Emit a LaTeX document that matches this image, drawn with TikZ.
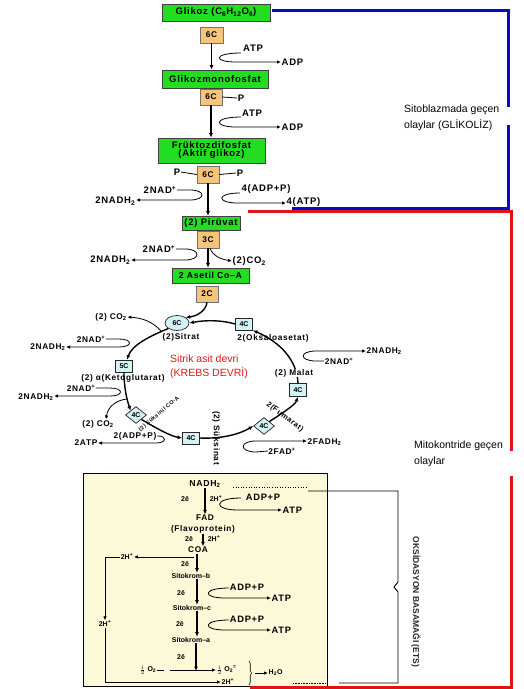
\documentclass[tikz,border=0pt]{standalone}
\usepackage{fontspec}
\setmainfont{Liberation Sans}
\newfontfamily\lbf[LetterSpace=8]{Liberation Sans}
\usetikzlibrary{arrows.meta,shapes.geometric,decorations.pathreplacing}
\definecolor{gfill}{HTML}{22DD22}
\definecolor{ofill}{HTML}{F5C67A}
\definecolor{cfill}{HTML}{D4F1F5}
\definecolor{efill}{HTML}{FCF9D9}
\definecolor{bline}{HTML}{0A0ACC}
\definecolor{rline}{HTML}{E01414}
\definecolor{kred}{HTML}{D81C1C}
\tikzset{
  L/.style={font=\lbf\bfseries\fontsize{9.5}{10}\selectfont, inner sep=0.5pt},
  K/.style={font=\lbf\bfseries\fontsize{8.3}{9}\selectfont, inner sep=0.5pt},
  E/.style={font=\bfseries\fontsize{7}{8}\selectfont, inner sep=0.5pt},
  ET/.style={font=\lbf\bfseries\fontsize{8.3}{9}\selectfont, inner sep=0.5pt},
  EA/.style={font=\lbf\bfseries\fontsize{9.3}{10}\selectfont, inner sep=0.5pt},
  gbox/.style={draw=black!75, fill=gfill, line width=0.7pt, inner sep=0pt, align=center, font=\lbf\bfseries\fontsize{9.5}{10}\selectfont},
  obox/.style={draw=black!55, fill=ofill, line width=0.5pt, inner sep=0pt, minimum width=22pt, minimum height=16pt, font=\lbf\bfseries\fontsize{8.3}{9}\selectfont},
  cbox/.style={draw=black!85, fill=cfill, line width=0.7pt, inner sep=0pt, minimum width=17pt, minimum height=12pt, font=\bfseries\fontsize{7}{7}\selectfont},
  cdia/.style={cbox, diamond, minimum width=21pt, minimum height=17pt},
  main/.style={-{Latex[length=4.5pt,width=4pt]}, line width=1.4pt},
  sarr/.style={-{Latex[length=4pt,width=3.5pt]}, line width=0.8pt},
  bar/.style={line width=3pt},
}
\begin{document}
\begin{tikzpicture}[x=1pt,y=-1pt]
\useasboundingbox (0,0) rectangle (524,689);
\fill[white] (0,0) rectangle (524,689);

% ---------------- Glycolysis ----------------
\node[gbox, minimum width=108pt, minimum height=17pt] (glk) at (216,12.5) {Glikoz (C\textsubscript{6}H\textsubscript{12}O\textsubscript{6})};
\node[obox, minimum width=23pt] (c1) at (211.5,35) {6C};
\node[gbox, minimum width=106pt, minimum height=18pt] (gmf) at (215,79) {Glikozmonofosfat};
\node[obox] (c2) at (211,97) {6C};
\node[L] (p1) at (241,98) {P};
\draw[line width=0.8pt] (c2.east) -- (p1.west);
\node[gbox, minimum width=107pt, minimum height=25pt] (fdf) at (211.5,150.5) {Früktozdifosfat\\[-2pt](Aktif glikoz)};
\node[obox, minimum height=17pt] (c3) at (208,174.5) {6C};
\node[L] (p2) at (177,172) {P};
\node[L] (p3) at (240,173) {P};
\draw[line width=0.8pt] (c3.west) -- (p2.east);
\draw[line width=0.8pt] (c3.east) -- (p3.west);

\draw[main] (c1.south) -- (c1.south |- gmf.north);
\draw[main] (c2.south) -- (c2.south |- fdf.north);

\node[L] (atp1) at (253,48) {ATP};
\node[L, anchor=west] (adp1) at (281,62) {ADP};
\coordinate (k1) at (241,53);
\draw[sarr] (k1) .. controls (213,53) and (213,62) .. (236,62) -- (adp1.west);

\node[L] (atp2) at (252,113) {ATP};
\node[L, anchor=west] (adp2) at (281,127) {ADP};
\coordinate (k2) at (241,117);
\draw[sarr] (k2) .. controls (213,117) and (213,127) .. (236,127) -- (adp2.west);

\node[L] (nad1) at (160,190) {2NAD\textsuperscript{+}};
\node[L, anchor=east] (nadh1) at (136,201) {2NADH\textsubscript{2}};
\draw[sarr] (nad1.east) -- (190,190) .. controls (206,190) and (206,200) .. (190,200) -- (nadh1.east |- 0,200);

\node[L] (adp4) at (266,189) {4(ADP+P)};
\node[L, anchor=west] (atp4) at (286,202) {4(ATP)};
\coordinate (k4) at (240,193);
\draw[sarr] (k4) .. controls (216,193) and (216,203) .. (238,203) -- (atp4.west |- 0,203);

% ---------------- Pyruvate ----------------
\node[gbox, minimum width=58pt, minimum height=14pt] (pyr) at (211,223) {(2) Pirüvat};
\draw[main] (c3.south) -- (c3.south |- pyr.north);
\node[obox, minimum height=17pt] (c4) at (208,239.5) {3C};
\node[gbox, minimum width=77pt, minimum height=15pt, font=\lbf\bfseries\fontsize{8.7}{9}\selectfont] (ase) at (210.5,275.5) {2 Asetil Co–A};
\draw[main] (c4.south) -- (c4.south |- ase.north);
\node[L] (nad2) at (159,249) {2NAD\textsuperscript{+}};
\node[L, anchor=east] (nadh2) at (131,260) {2NADH\textsubscript{2}};
\draw[sarr] (nad2.east) -- (185,249) .. controls (201,249) and (201,260) .. (185,260) -- (nadh2.east |- 0,260);
\node[L, anchor=west] (co2a) at (232,261) {(2)CO\textsubscript{2}};
\draw[sarr] ([xshift=2pt]c4.south) .. controls (213,256) and (220,259) .. (co2a.west);
\node[obox] (c5) at (207,294) {2C};

% ---------------- Krebs ----------------
\node[ellipse, draw=black!85, fill=cfill, line width=0.7pt, inner sep=0pt, minimum width=24pt, minimum height=15pt, font=\bfseries\fontsize{7}{7}\selectfont] (sit) at (177,323) {6C};
\node[K] (sitl) at (181,337) {(2)Sitrat};
\node[cbox] (oks) at (244,324) {4C};
\node[K] (oksl) at (273,338) {2(Oksaloasetat)};
\node[cbox, minimum height=13pt] (mal) at (298,390) {4C};
\node[cdia] (fum) at (264,426) {4C};
\node[cbox] (suk) at (191,438) {4C};
\node[cdia] (scoa) at (136,415) {4C};
\node[cbox] (ket) at (124,366) {5C};

\draw[main] (c5.south) .. controls (206,311) and (197,316) .. (sit.north east);
\draw[main] (oks.west) .. controls (222,320) and (205,320) .. (sit.east);
\draw[main] (mal.north) .. controls (297,360) and (280,342) .. (oks.south east);
\draw[main] (fum.north east) .. controls (284,412) and (295,405) .. (mal.south);
\draw[main] (suk.east) .. controls (222,439) and (240,434) .. (fum.west);
\draw[main] (scoa.south east) .. controls (156,428) and (170,436) .. (suk.west);
\draw[main] (ket.south) .. controls (124,388) and (127,400) .. (scoa.north west);
\draw[main] (sit.south west) .. controls (150,336) and (132,345) .. ([xshift=3pt]ket.north);

\node[K, fill=white] (mall) at (294,373) {(2) Malat};
\node[K, rotate=-37, font=\lbf\bfseries\fontsize{7.5}{8}\selectfont] (fuml) at (285,417) {2(Fumarat)};
\node[K, rotate=-90] (sukl) at (216,438) {(2) Süksinat};
\node[font=\lbf\bfseries\fontsize{5.5}{6}\selectfont, rotate=40, inner sep=0pt] (scoal) at (159,414) {(2) Süksinil CO-A};
\node[K] (ketl) at (123,378) {(2) α(Ketoglutarat)};

\node[K] (co2b) at (111,317) {(2) CO\textsubscript{2}};
\coordinate (s1) at (161,331);
\draw[sarr] (s1) .. controls (153,322) and (143,318) .. (co2b.east);

\node[K] (nadk1) at (91,339) {2NAD\textsuperscript{+}};
\node[K, anchor=east] (nadhk1) at (66,347) {2NADH\textsubscript{2}};
\draw[sarr] (nadk1.east) -- (119,339) .. controls (133,339) and (133,347) .. (119,347) -- (nadhk1.east |- 0,347);

\node[K] (nadk2) at (81,388) {2NAD\textsuperscript{+}};
\node[K, anchor=east] (nadhk2) at (54,397) {2NADH\textsubscript{2}};
\draw[sarr] (nadk2.east) -- (110,388) .. controls (124,388) and (124,396) .. (110,396) -- (nadhk2.east |- 0,396);

\node[K] (co2c) at (98,424) {(2) CO\textsubscript{2}};
\coordinate (s2) at (127,399);
\draw[sarr] (s2) .. controls (117,400) and (108,406) .. ([xshift=8pt]co2c.north);

\node[K] (adpk) at (135,436) {2(ADP+P)};
\node[K, anchor=east] (atpk) at (98,443) {2ATP};
\draw[sarr] (adpk.east) -- (158,436) .. controls (167,436) and (167,443) .. (156,443) -- (atpk.east |- 0,443);

\node[K, anchor=west] (nadhk3) at (366,351) {2NADH\textsubscript{2}};
\node[K] (nadk3) at (339,361) {2NAD\textsuperscript{+}};
\draw[sarr] (nadk3.west) -- (316,361) .. controls (299,361) and (299,351) .. (316,351) -- (nadhk3.west |- 0,351);

\node[K, anchor=west] (fadh) at (307,442) {2FADH\textsubscript{2}};
\node[K] (fad) at (282,451) {2FAD\textsuperscript{+}};
\draw[sarr] (fad.west) -- (256,452) .. controls (239,452) and (239,441) .. (256,441) -- (fadh.west |- 0,441);

\node[font=\fontsize{10.5}{14}\selectfont, text=kred, anchor=base west, inner sep=0pt] (kr1) at (170,362) {Sitrik asit devri};
\node[font=\fontsize{10.5}{14}\selectfont, text=kred, anchor=base west, inner sep=0pt] (kr2) at (170,376) {(KREBS DEVRİ)};

% ---------------- Side labels ----------------
\node[font=\fontsize{10.5}{12}\selectfont, anchor=base west, inner sep=0pt] (sito1) at (404,112) {Sitoblazmada geçen};
\node[font=\fontsize{10.5}{12}\selectfont, anchor=base west, inner sep=0pt] (sito2) at (404,128) {olaylar (GLİKOLİZ)};
\node[font=\fontsize{10.5}{12}\selectfont, anchor=base west, inner sep=0pt] (mito1) at (414,448) {Mitokontride geçen};
\node[font=\fontsize{10.5}{12}\selectfont, anchor=base west, inner sep=0pt] (mito2) at (414,464) {olaylar};

% ---------------- ETS ----------------
\draw[fill=efill, line width=1pt] (83,473) rectangle (327,686);
\draw[line width=0.9pt] (308,491) -- (398,491) -- (398,582) -- (394,587) -- (398,592) -- (398,683) -- (339,683);
\draw[dotted, line width=0.6pt] (233,487) -- (308,487);
\draw[densely dotted, line width=0.6pt] (293,683) -- (326,683);
\node[font=\bfseries\fontsize{8.5}{9}\selectfont, rotate=-90, text=black!85] (oksd) at (416,602) {OKSİDASYON BASAMAĞI (ETS)};

\node[ET, font=\lbf\bfseries\fontsize{8.7}{9}\selectfont] (nadh) at (205,484) {NADH\textsubscript{2}};
\node[ET] (fadn) at (205,518) {FAD};
\node[ET] (flav) at (203,529) {(Flavoprotein)};
\node[ET] (coa) at (198,550) {COA};
\node[E] (sb) at (191,576) {Sitokrom–b};
\node[E] (sc) at (192,608) {Sitokrom–c};
\node[E] (sa) at (191,640) {Sitokrom–a};

\draw[main] (nadh.south) -- (nadh.south |- fadn.north);
\draw[main] (flav.south) -- (flav.south |- coa.north);
\draw[main] ([xshift=-1pt]coa.south) -- ([xshift=-1pt]coa.south |- sb.north);
\draw[main] ([xshift=6pt]sb.south) -- ([xshift=6pt]sb.south |- sc.north);
\draw[main] ([xshift=5pt]sc.south) -- ([xshift=5pt]sc.south |- sa.north);
\coordinate (o2t) at (196,671);
\draw[main] ([xshift=5pt]sa.south) -- (o2t);

\node[E] (e1) at (185,499) {2ē};
\node[E] (hp1) at (216,499) {2H\textsuperscript{+}};
\node[E] (e2) at (189,539) {2ē};
\node[E] (hp2) at (214,539) {2H\textsuperscript{+}};
\node[E] (e3) at (185,564) {2ē};
\node[E] (e4) at (181,593) {2ē};
\node[E] (e5) at (180,624) {2ē};
\node[E] (e6) at (181,657) {2ē};

\node[EA] (adpe1) at (263,497) {ADP+P};
\node[EA, anchor=west] (atpe1) at (282,510) {ATP};
\coordinate (q1) at (241,498);
\draw[sarr] (q1) .. controls (213,498) and (213,510) .. (238,510) -- (atpe1.west);

\node[EA] (adpe2) at (247,587) {ADP+P};
\node[EA, anchor=west] (atpe2) at (271,598) {ATP};
\coordinate (q2) at (229,588);
\draw[sarr] (q2) .. controls (202,588) and (202,598) .. (225,598) -- (atpe2.west);

\node[EA] (adpe3) at (247,619) {ADP+P};
\node[EA, anchor=west] (atpe3) at (271,630) {ATP};
\coordinate (q3) at (229,620);
\draw[sarr] (q3) .. controls (202,620) and (202,630) .. (225,630) -- (atpe3.west);

\node[E] (h2l) at (127,557) {2H\textsuperscript{+}};
\coordinate (cl) at (194,557);
\draw[sarr] (cl) -- (h2l.east);
\node[E] (h2m) at (105,624) {2H\textsuperscript{+}};
\draw[sarr] (h2l.west) -- (105,557) -- (h2m.north);
\node[E, anchor=west] (h2b) at (221,682) {2H\textsuperscript{+}};
\draw[sarr] (h2m.south) -- (105,682) -- (h2b.west);

\node[E] (o2a) at (148,670) {$\frac{1}{2}$ O\textsubscript{2}};
\node[E, anchor=west] (o2b) at (216,670) {$\frac{1}{2}$ O\textsubscript{2}\textsuperscript{=}};
\draw[sarr, dash pattern=on 7pt off 6pt on 60pt] (o2a.east) -- (o2b.west);
\draw[decorate, decoration={brace, amplitude=2.5pt}, line width=0.6pt] (249,661) -- (249,685);
\coordinate (brt) at (255,673);
\node[E, anchor=west] (h2o) at (268,673) {H\textsubscript{2}O};
\draw[sarr] (brt) -- (h2o.west);

% ---------------- Region lines ----------------
\draw[bar, bline] (272,10) -- (508,10) -- (508,107);
\draw[bar, bline] (508,125) -- (508,208) -- (292,208);
\draw[bar, rline] (248,211.5) -- (511,211.5) -- (511,451);
\draw[bar, rline] (511,476) -- (511,687) -- (250,687);
\end{tikzpicture}
\end{document}
